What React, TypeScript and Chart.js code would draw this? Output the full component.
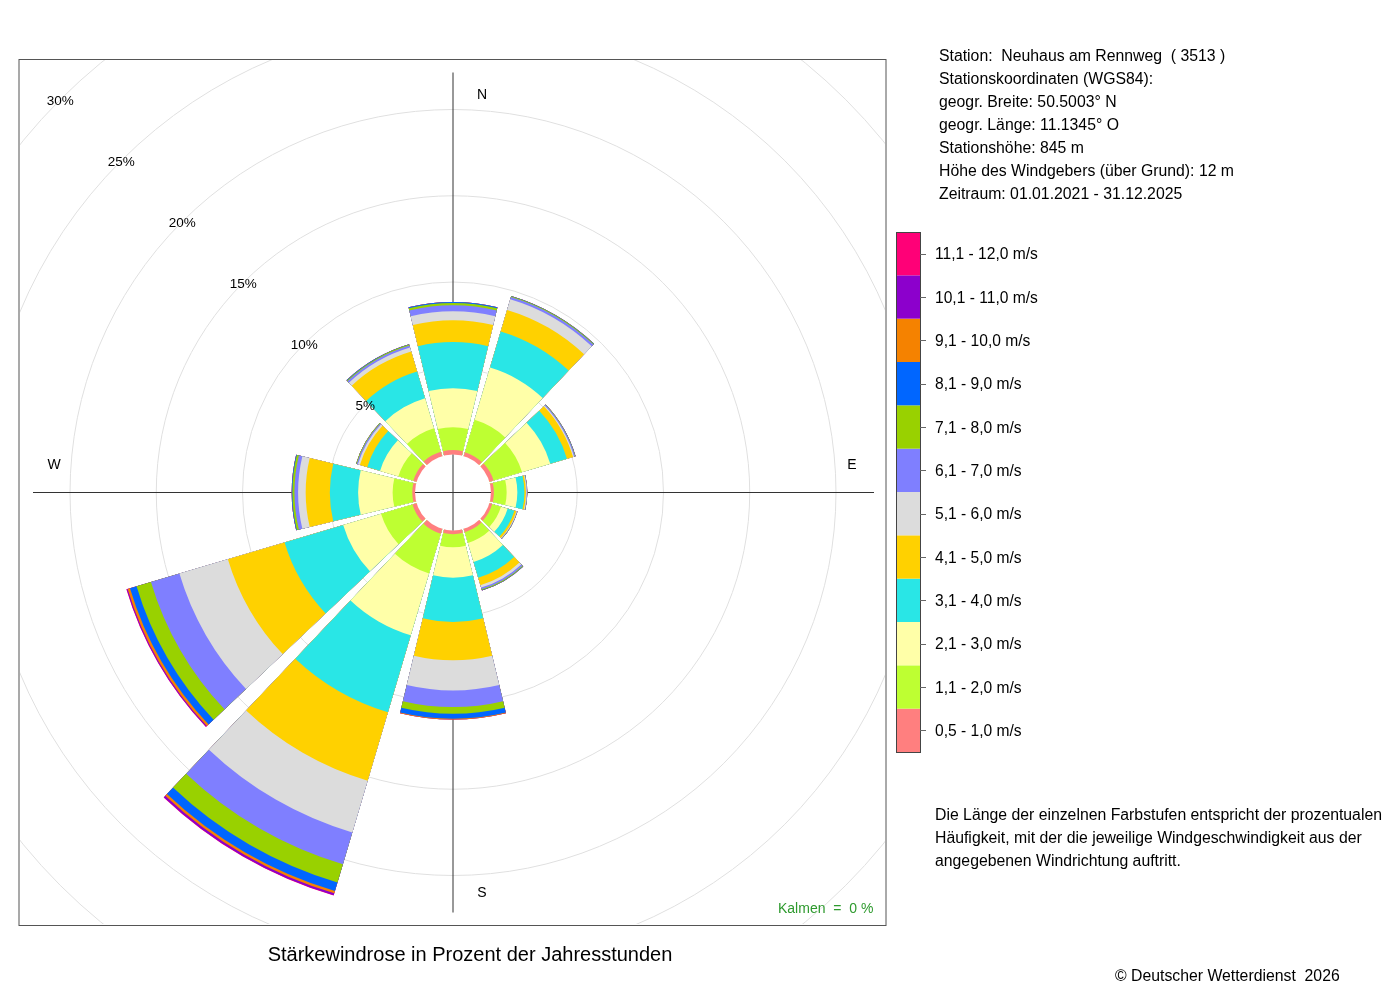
import React, { useEffect, useRef } from 'react';
import { Chart, registerables } from 'chart.js';

Chart.register(...registerables);

// ---------- data ----------
const directions = ['N', 'NNO', 'ONO', 'O', 'OSO', 'SSO', 'S', 'SSW', 'WSW', 'W', 'WNW', 'NNW'];

const speedClasses = [
  '0,5 - 1,0 m/s', '1,1 - 2,0 m/s', '2,1 - 3,0 m/s', '3,1 - 4,0 m/s',
  '4,1 - 5,0 m/s', '5,1 - 6,0 m/s', '6,1 - 7,0 m/s', '7,1 - 8,0 m/s',
  '8,1 - 9,0 m/s', '9,1 - 10,0 m/s', '10,1 - 11,0 m/s', '11,1 - 12,0 m/s',
];

const classColors = [
  '#FF7F7F', '#BEFF32', '#FFFFA8', '#29E6E6', '#FFD100', '#DCDCDC',
  '#7F7FFF', '#99D100', '#0066FF', '#F58200', '#8C00CC', '#FF0077',
];

// frequency (% of hours) per speed class, per direction (N, NNO, ONO, O, OSO, SSO, S, SSW, WSW, W, WNW, NNW)
const class01 = [0.26, 0.23, 0.25, 0.17, 0.17, 0.20, 0.22, 0.29, 0.25, 0.16, 0.20, 0.27];
const class02 = [1.32, 1.97, 1.72, 0.74, 0.53, 0.65, 0.76, 2.40, 1.90, 1.14, 0.90, 1.41];
const class03 = [2.27, 3.15, 1.71, 0.62, 0.40, 1.15, 1.76, 3.74, 2.29, 2.00, 1.11, 1.82];
const class04 = [2.67, 2.19, 1.01, 0.41, 0.41, 0.95, 2.56, 4.65, 3.54, 1.64, 0.77, 1.62];
const class05 = [1.26, 1.30, 0.37, 0.09, 0.12, 0.45, 2.23, 4.14, 3.43, 1.40, 0.45, 1.21];
const class06 = [0.52, 0.64, 0.06, 0.04, 0.03, 0.15, 1.74, 3.13, 2.93, 0.44, 0.12, 0.24];
const class07 = [0.35, 0.14, 0.06, 0.03, 0.03, 0.10, 0.97, 1.92, 1.72, 0.21, 0.07, 0.12];
const class08 = [0.13, 0.04, 0.02, 0.01, 0.01, 0.05, 0.39, 1.11, 0.87, 0.12, 0.04, 0.05];
const class09 = [0.06, 0.02, 0.01, 0.00, 0.00, 0.02, 0.29, 0.51, 0.40, 0.04, 0.00, 0.03];
const class10 = [0.00, 0.00, 0.00, 0.00, 0.00, 0.00, 0.04, 0.14, 0.14, 0.00, 0.00, 0.00];
const class11 = [0.00, 0.00, 0.00, 0.00, 0.00, 0.00, 0.00, 0.12, 0.06, 0.00, 0.00, 0.00];
const class12 = [0.00, 0.00, 0.00, 0.00, 0.00, 0.00, 0.00, 0.02, 0.02, 0.00, 0.00, 0.00];

const classValues = [class01, class02, class03, class04, class05, class06, class07, class08, class09, class10, class11, class12];

const ringTicks = [5, 10, 15, 20, 25, 30];
const ringLabels = ['5%', '10%', '15%', '20%', '25%', '30%'];
const compassLabels = ['N', 'E', 'S', 'W'];

const calmText = 'Kalmen  =  0 %';
const titleText = 'Stärkewindrose in Prozent der Jahresstunden';
const stationLines = [
  'Station:  Neuhaus am Rennweg  ( 3513 )',
  'Stationskoordinaten (WGS84):',
  'geogr. Breite: 50.5003° N',
  'geogr. Länge: 11.1345° O',
  'Stationshöhe: 845 m',
  'Höhe des Windgebers (über Grund): 12 m',
  'Zeitraum: 01.01.2021 - 31.12.2025',
];
const noteLines = [
  'Die Länge der einzelnen Farbstufen entspricht der prozentualen',
  'Häufigkeit, mit der die jeweilige Windgeschwindigkeit aus der',
  'angegebenen Windrichtung auftritt.',
];
const copyrightText = '© Deutscher Wetterdienst  2026';

// ---------- geometry constants ----------
const R_MIN = -2.2;
const R_MAX = 30;
const SECTOR_ANGLE = 27;
const GAP_ANGLE = 3;
const FONT = '"Liberation Sans", Arial, Helvetica, sans-serif';

function buildDatasets() {
  const labels: string[] = [];
  directions.forEach((d) => { labels.push(d); labels.push(''); });
  const datasets = classValues.map((_, k) => {
    const data: number[] = [];
    directions.forEach((_d, i) => {
      let cum = 0;
      for (let j = 0; j <= k; j++) cum += classValues[j][i];
      data.push(cum);
      data.push(R_MIN);
    });
    return {
      label: speedClasses[k],
      data,
      backgroundColor: classColors[k],
      borderWidth: 0,
      angle: (c: any) => (c.dataIndex % 2 === 0 ? SECTOR_ANGLE : GAP_ANGLE),
    };
  });
  return { labels, datasets };
}

const rosePlugin = {
  id: 'rose',
  beforeDraw(chart: any) {
    const { ctx, chartArea: a } = chart;
    ctx.save();
    ctx.beginPath();
    ctx.rect(a.left, a.top, a.right - a.left, a.bottom - a.top);
    ctx.clip();
  },
  beforeDatasetsDraw(chart: any) {
    const { ctx } = chart;
    const s = chart.scales.r;
    const cx = s.xCenter, cy = s.yCenter;
    ctx.save();
    ctx.strokeStyle = '#333';
    ctx.lineWidth = 1;
    ctx.beginPath();
    ctx.moveTo(cx, cy - 420); ctx.lineTo(cx, cy + 420);
    ctx.moveTo(cx - 420, cy); ctx.lineTo(cx + 421, cy);
    ctx.stroke();
    ctx.restore();
  },
  afterDatasetsDraw(chart: any) {
    const { ctx } = chart;
    const s = chart.scales.r;
    const cx = s.xCenter, cy = s.yCenter;
    const r0 = s.getDistanceFromCenterForValue(0);
    ctx.save();
    ctx.fillStyle = '#ffffff';
    ctx.beginPath();
    ctx.arc(cx, cy, r0, 0, Math.PI * 2);
    ctx.fill();
    ctx.strokeStyle = '#333';
    ctx.lineWidth = 1;
    ctx.beginPath();
    ctx.moveTo(cx, cy - r0); ctx.lineTo(cx, cy + r0);
    ctx.moveTo(cx - r0, cy); ctx.lineTo(cx + r0, cy);
    ctx.stroke();
    ctx.restore();
    ctx.restore(); // clip from beforeDraw
  },
  afterDraw(chart: any) {
    const { ctx } = chart;
    const s = chart.scales.r;
    const cx = s.xCenter, cy = s.yCenter;
    ctx.save();
    // plot frame
    ctx.strokeStyle = '#555';
    ctx.lineWidth = 1;
    ctx.strokeRect(19, 59.5, 867, 866);

    // ring labels along the NW diagonal
    ctx.fillStyle = '#000';
    ctx.textAlign = 'center';
    ctx.textBaseline = 'middle';
    ctx.font = `13.5px ${FONT}`;
    ringTicks.forEach((v, i) => {
      const r = s.getDistanceFromCenterForValue(v);
      ctx.fillText(ringLabels[i], cx - r * Math.SQRT1_2, cy - r * Math.SQRT1_2 + 1.5);
    });

    // compass labels
    ctx.font = `14px ${FONT}`;
    const comp: [number, number][] = [[29, -397], [399, -27], [29, 401], [-399, -27]];
    compassLabels.forEach((t, i) => ctx.fillText(t, cx + comp[i][0], cy + comp[i][1]));

    // calms
    ctx.textAlign = 'left';
    ctx.textBaseline = 'alphabetic';
    ctx.fillStyle = '#2E9A2E';
    ctx.font = `14px ${FONT}`;
    ctx.fillText(calmText, 778, 913);

    // title
    ctx.fillStyle = '#000';
    ctx.textAlign = 'center';
    ctx.textBaseline = 'middle';
    ctx.font = `20px ${FONT}`;
    ctx.fillText(titleText, 470, 955);

    // station info
    ctx.textAlign = 'left';
    ctx.font = `15.8px ${FONT}`;
    const stationY = [56.5, 79.5, 103, 126, 149, 172, 195];
    stationLines.forEach((t, i) => ctx.fillText(t, 939, stationY[i]));

    // colour legend
    const barX = 896, barW = 24, barTop = 232, barBottom = 752;
    const segH = (barBottom - barTop) / classColors.length;
    classColors.forEach((c, k) => {
      const y = barBottom - (k + 1) * segH;
      ctx.fillStyle = c;
      ctx.fillRect(barX, y, barW, segH);
    });
    ctx.strokeStyle = '#444';
    ctx.lineWidth = 1;
    ctx.strokeRect(barX + 0.5, barTop + 0.5, barW, barBottom - barTop);
    ctx.strokeStyle = '#666';
    ctx.fillStyle = '#000';
    ctx.font = `15.6px ${FONT}`;
    speedClasses.forEach((t, k) => {
      const yc = barBottom - (k + 0.5) * segH;
      ctx.beginPath();
      ctx.moveTo(barX + barW, Math.round(yc) + 0.5);
      ctx.lineTo(barX + barW + 6, Math.round(yc) + 0.5);
      ctx.stroke();
      ctx.fillText(t, 935, yc + 1.5);
    });

    // note
    ctx.font = `15.8px ${FONT}`;
    const noteY = [815.5, 838.5, 861.5];
    noteLines.forEach((t, i) => ctx.fillText(t, 935, noteY[i]));

    // copyright
    ctx.fillText(copyrightText, 1115, 977);
    ctx.restore();
  },
};

export default function App() {
  const canvasRef = useRef<HTMLCanvasElement | null>(null);

  useEffect(() => {
    const canvas = canvasRef.current;
    if (!canvas) return;
    const { labels, datasets } = buildDatasets();
    const chart = new Chart(canvas, {
      type: 'polarArea',
      data: { labels, datasets } as any,
      options: {
        responsive: false,
        animation: false,
        devicePixelRatio: 1,
        events: [],
        layout: { padding: { left: 20, top: 60, right: 515, bottom: 76 } },
        plugins: {
          legend: { display: false },
          tooltip: { enabled: false },
          title: { display: false },
        },
        scales: {
          r: {
            min: R_MIN,
            max: R_MAX,
            startAngle: -SECTOR_ANGLE / 2,
            ticks: { display: false, stepSize: 5 },
            grid: {
              circular: true,
              lineWidth: 1,
              color: (c: any) => (c.tick && c.tick.value > 0 && Math.abs(c.tick.value % 5) < 1e-6 ? '#E0E0E0' : 'rgba(0,0,0,0)'),
            },
            angleLines: { display: false },
            pointLabels: { display: false },
            afterFit: (scale: any) => {
              scale.xCenter = 453;
              scale.yCenter = 492.5;
              scale.drawingArea = 555.5;
            },
          },
        },
      } as any,
      plugins: [rosePlugin],
    });
    return () => chart.destroy();
  }, []);

  return (
    <div style={{ position: 'absolute', left: 0, top: 0, width: 1400, height: 1000, background: '#fff' }}>
      <canvas ref={canvasRef} width={1400} height={1000} style={{ display: 'block', width: 1400, height: 1000 }} />
    </div>
  );
}
